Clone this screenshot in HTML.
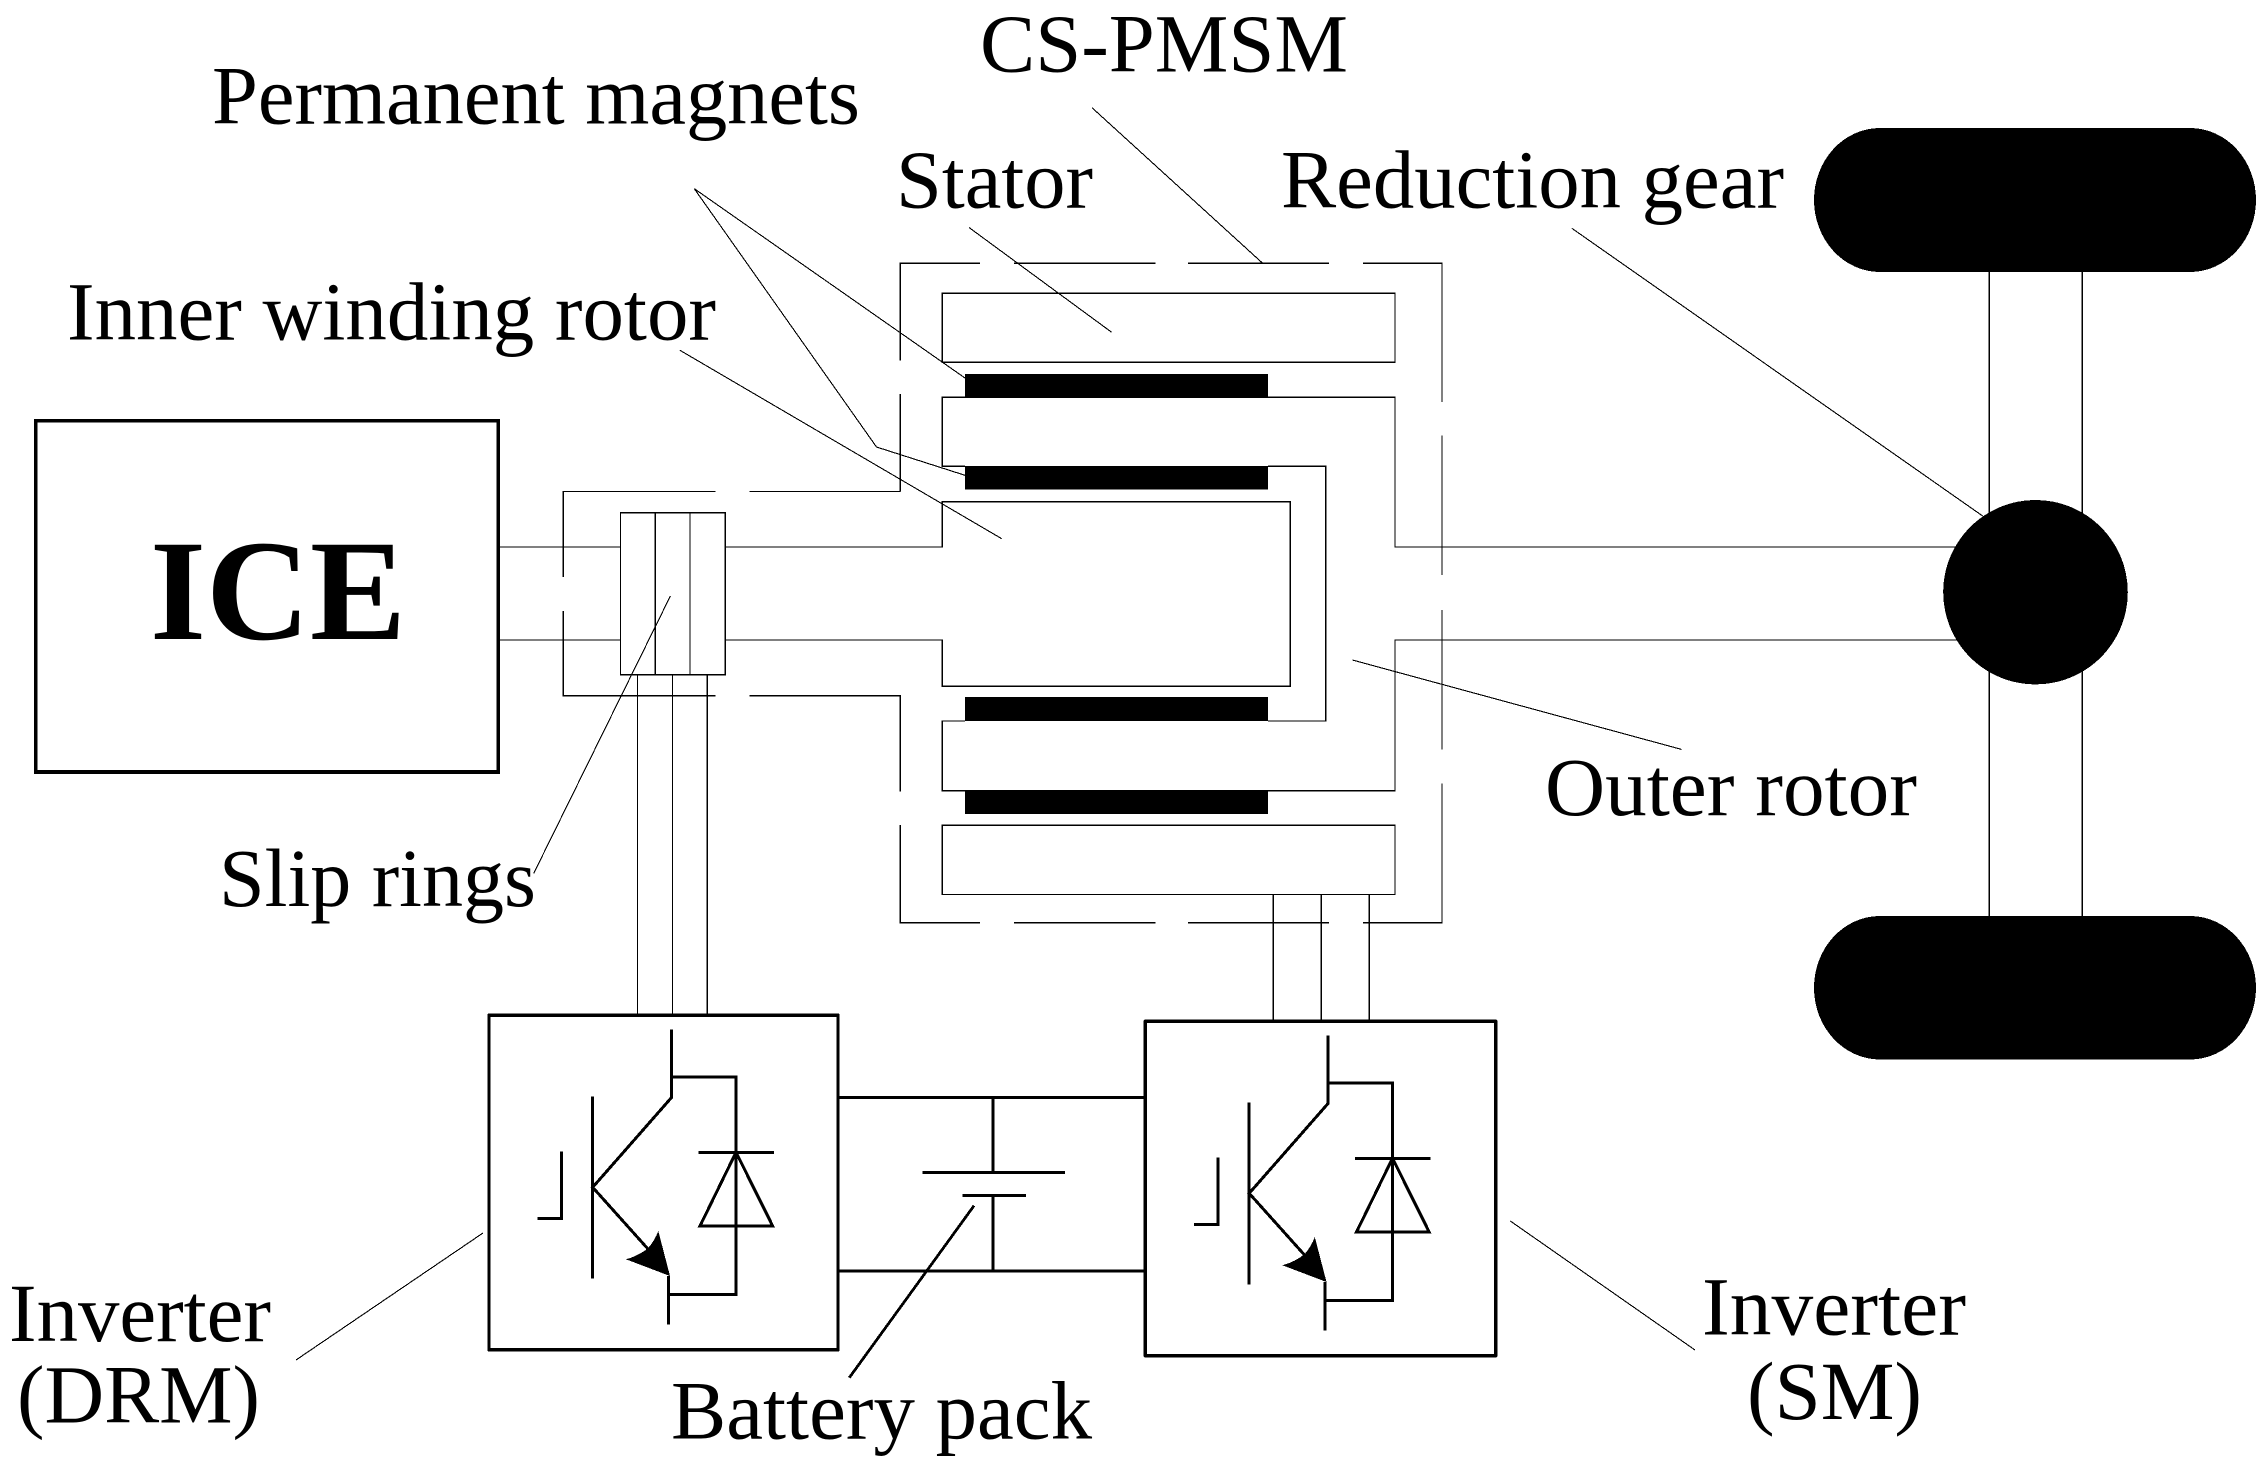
<!DOCTYPE html>
<html><head><meta charset="utf-8"><style>html,body{margin:0;padding:0;background:#fff}svg{display:block}text{font-family:"Liberation Serif",serif;font-size:83px;fill:#000}</style></head>
<body>
<svg xmlns="http://www.w3.org/2000/svg" width="2268" height="1467" viewBox="0 0 2268 1467">
<rect width="2268" height="1467" fill="#fff"/>
<g shape-rendering="crispEdges">
<g fill="none" stroke="#000" stroke-width="1.4">
<!-- CS-PMSM and slip-ring dashed enclosure -->
<path d="M900.300 491.500V394M900.300 360.700V263.300H980M1014 263.300H1155.500M1188 263.300H1329M1363 263.300H1442V402M1442 435.400V575M1442 610V749.400M1442 783.600V922.600H1363M1329 922.600H1188M1155.500 922.600H1014M980 922.600H900.300V825.200M900.300 791.500V695.700H749.300M715.300 695.700H563.400V611M563.400 576.800V491.500H715.300M749.300 491.500H900.300"/>
<!-- slip rings -->
<rect x="620.500" y="512.600" width="104.900" height="162"/>
<path d="M655.200 512.600V674.600M690 512.600V674.600"/>
<path d="M637.500 674.600V1015M672.500 674.600V1015M707.300 674.600V1015"/>
<!-- shaft -->
<path d="M498 547H620.500M498 640H620.500"/>
<!-- inner rotor -->
<path d="M725.400 547H942.300V501.700H1290.300V686.300H942.300V640H725.400"/>
<!-- stators -->
<rect x="942.300" y="293.300" width="452.700" height="69"/>
<rect x="942.300" y="825.200" width="452.700" height="69.300"/>
<!-- outer rotor -->
<path d="M1990 547H1395V397.300H942.300V466.300H965M1268 466.300H1325.700V721H1268M965 721H942.300V790.600H1395V640H1990"/>
<!-- axle and SM wires -->
<path d="M1989.300 272V916M2082.300 272V916"/>
<path d="M1273.300 894.500V1020M1321.300 894.500V1020M1369.300 894.500V1020"/>
</g>
<!-- leaders -->
<g fill="none" stroke="#000" stroke-width="1.1">
<path d="M1092 107.700L1262.700 263.300"/>
<path d="M969 227.500L1111.700 332.300"/>
<path d="M965 378L694.300 188.700L876.500 447L965 475.300"/>
<path d="M679.800 350.200L1001.700 538.700"/>
<path d="M1572 228.400L1982.700 516"/>
<path d="M670.400 596L533.700 873.400"/>
<path d="M1352.400 660L1681.500 749.400"/>
<path d="M296 1360L483 1233"/>
<path d="M1510.300 1221L1695 1350"/>
</g>
<path d="M974 1205.700L849.300 1377.700" fill="none" stroke="#000" stroke-width="2.800"/>
<!-- solid parts -->
<g fill="#000">
<rect x="965" y="374" width="303" height="23.500"/>
<rect x="965" y="466" width="303" height="23.700"/>
<rect x="965" y="697" width="303" height="24"/>
<rect x="965" y="790.500" width="303" height="23.500"/>
<ellipse cx="2035.500" cy="592.200" rx="92.300" ry="92.200"/>
<rect x="1814" y="128" width="442" height="144" rx="66" ry="72"/>
<rect x="1814" y="916" width="442" height="143.500" rx="66" ry="72"/>
</g>
<rect x="35.800" y="420.800" width="462.500" height="351.200" fill="none" stroke="#000" stroke-width="3.600"/>
<!-- inverters -->
<g fill="none" stroke="#000" stroke-width="3.400" stroke-linejoin="round">
<rect x="489" y="1015.300" width="349" height="334.400"/>
<rect x="1145.300" y="1021.300" width="350.400" height="334.400"/>
</g>
<g fill="none" stroke="#000" stroke-width="3">
<path d="M838 1097.300H1145.300M838 1271H1145.300M993 1097.300V1172.700M993 1195.300V1271M922.300 1172.700H1065M962.700 1195.300H1026"/>
</g>
<g id="a" fill="none" stroke="#000" stroke-width="3">
<path d="M671.700 1029.300V1097.300L592.700 1187.300L648 1249M668.700 1276V1324.300M592.700 1096.700V1278.300M561.700 1151.700V1218.300H537.300"/>
<path d="M671.700 1077H736V1294.300H668.700"/>
<path d="M698.300 1152.300H774M736 1152.300L700 1226H772.700Z"/>
<path d="M670 1276L658.300 1231Q655 1240 648 1248.300Q638 1256 626 1259.300Z" fill="#000" stroke="none"/>
</g>
<g transform="translate(656.500 6)" fill="none" stroke="#000" stroke-width="3">
<path d="M671.700 1029.300V1097.300L592.700 1187.300L648 1249M668.700 1276V1324.300M592.700 1096.700V1278.300M561.700 1151.700V1218.300H537.300"/>
<path d="M671.700 1077H736V1294.300H668.700"/>
<path d="M698.300 1152.300H774M736 1152.300L700 1226H772.700Z"/>
<path d="M670 1276L658.300 1231Q655 1240 648 1248.300Q638 1256 626 1259.300Z" fill="#000" stroke="none"/>
</g>
</g>
<!-- labels -->
<text x="980" y="71.600" textLength="368" lengthAdjust="spacingAndGlyphs">CS-PMSM</text>
<text x="212" y="123.600" textLength="648" lengthAdjust="spacingAndGlyphs">Permanent magnets</text>
<text x="896" y="207.400" textLength="197" lengthAdjust="spacingAndGlyphs">Stator</text>
<text x="1281" y="207.400" textLength="503" lengthAdjust="spacingAndGlyphs">Reduction gear</text>
<text x="67" y="339.400" textLength="649" lengthAdjust="spacingAndGlyphs">Inner winding rotor</text>
<text x="150" y="639" textLength="256" lengthAdjust="spacingAndGlyphs" style="font-weight:bold;font-size:144px">ICE</text>
<text x="219" y="906.200" textLength="317" lengthAdjust="spacingAndGlyphs">Slip rings</text>
<text x="1545" y="815" textLength="372" lengthAdjust="spacingAndGlyphs">Outer rotor</text>
<text x="9" y="1341" textLength="262" lengthAdjust="spacingAndGlyphs">Inverter</text>
<text x="17" y="1422.700" textLength="243" lengthAdjust="spacingAndGlyphs">(DRM)</text>
<text x="671" y="1438.500" textLength="421" lengthAdjust="spacingAndGlyphs">Battery pack</text>
<text x="1702" y="1334.600" textLength="264" lengthAdjust="spacingAndGlyphs">Inverter</text>
<text x="1747" y="1418.900" textLength="175" lengthAdjust="spacingAndGlyphs">(SM)</text>
</svg>
</body></html>
